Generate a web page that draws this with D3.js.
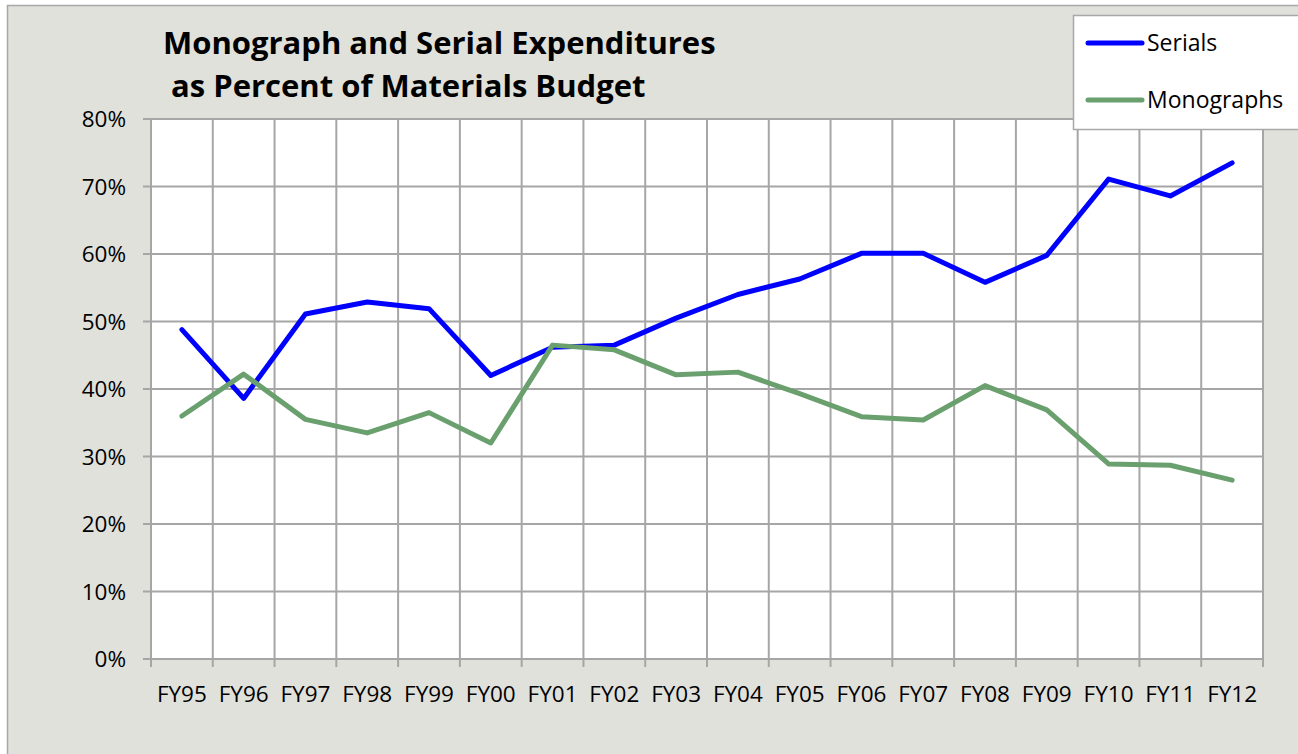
<!DOCTYPE html>
<html>
<head>
<meta charset="utf-8">
<script src="https://cdn.jsdelivr.net/npm/d3@7"></script>
<style>
  html, body { margin: 0; padding: 0; background: #fff; }
  svg { display: block; }
  text { font-family: "Open Sans", Lato, sans-serif; fill: #000; }
</style>
</head>
<body>
<svg id="chart" width="1298" height="754"></svg>
<script>
// fiscal years on the x axis
const years = ["FY95","FY96","FY97","FY98","FY99","FY00","FY01","FY02","FY03",
               "FY04","FY05","FY06","FY07","FY08","FY09","FY10","FY11","FY12"];

// share of materials budget, percent
const serials    = [48.8, 38.6, 51.1, 52.9, 51.9, 42.0, 46.2, 46.5, 50.5,
                    54.0, 56.3, 60.1, 60.1, 55.8, 59.8, 71.1, 68.6, 73.5];
const monographs = [36.0, 42.2, 35.5, 33.5, 36.5, 32.0, 46.5, 45.8, 42.1,
                    42.5, 39.3, 35.9, 35.4, 40.5, 36.9, 28.9, 28.7, 26.5];

const yTicks = [0, 10, 20, 30, 40, 50, 60, 70, 80];

const series = [
    {name: "Serials",    values: serials,    color: "#0000ff"},
    {name: "Monographs", values: monographs, color: "#6a9f6e"}
];

const svg = d3.select("#chart");
const W = 1298, H = 754;
const plot = {left: 151, top: 119, right: 1263, bottom: 659};

// chart background + frame
svg.append("rect").attr("width", W).attr("height", H).attr("fill", "#fff");
svg.append("rect")
    .attr("x", 7.5).attr("y", 5.5).attr("width", W).attr("height", H)
    .attr("fill", "#e1e1dc").attr("stroke", "#a8a8a8").attr("stroke-width", 1.5);

const x = d3.scaleBand().domain(years).range([plot.left, plot.right]).paddingInner(0).paddingOuter(0);
const y = d3.scaleLinear().domain([0, 80]).range([plot.bottom, plot.top]);

svg.append("rect")
    .attr("x", plot.left).attr("y", plot.top)
    .attr("width", plot.right - plot.left).attr("height", plot.bottom - plot.top)
    .attr("fill", "#fff");

const grid = svg.append("g").attr("stroke", "#a6a6a6").attr("stroke-width", 2);

// horizontal gridlines
grid.selectAll("line.h").data(yTicks).join("line")
    .attr("class", "h")
    .attr("x1", plot.left - 8).attr("x2", plot.right)
    .attr("y1", d => y(d)).attr("y2", d => y(d));

// vertical gridlines at category boundaries (+ last edge)
const edges = years.map(d => x(d)).concat([plot.right]);
grid.selectAll("line.v").data(edges).join("line")
    .attr("class", "v")
    .attr("x1", d => d).attr("x2", d => d)
    .attr("y1", plot.top).attr("y2", plot.bottom + 8);

// y labels
svg.append("g").selectAll("text").data(yTicks).join("text")
    .attr("x", 126).attr("y", d => y(d))
    .attr("dy", "0.36em")
    .attr("text-anchor", "end")
    .attr("font-size", 22.5)
    .text(d => d + "%");

// x labels
svg.append("g").selectAll("text").data(years).join("text")
    .attr("x", d => x(d) + x.bandwidth() / 2)
    .attr("y", 702)
    .attr("text-anchor", "middle")
    .attr("font-size", 22.5)
    .text(d => d);

// series lines
const line = d3.line()
    .x((d, i) => x(years[i]) + x.bandwidth() / 2)
    .y(d => y(d));

svg.append("g").selectAll("path").data(series).join("path")
    .attr("d", d => line(d.values))
    .attr("fill", "none")
    .attr("stroke", d => d.color)
    .attr("stroke-width", 5)
    .attr("stroke-linejoin", "round")
    .attr("stroke-linecap", "round");

// title
const title = svg.append("text")
    .attr("font-size", 31).attr("font-weight", "bold");
title.append("tspan").attr("x", 163).attr("y", 54).text("Monograph and Serial Expenditures");
title.append("tspan").attr("x", 171).attr("y", 97).text("as Percent of Materials Budget");

// legend
const legend = svg.append("g");
legend.append("rect")
    .attr("x", 1073.5).attr("y", 15.5).attr("width", 240).attr("height", 114)
    .attr("fill", "#fff").attr("stroke", "#a8a8a8").attr("stroke-width", 1.5);
const item = legend.selectAll("g").data(series).join("g")
    .attr("transform", (d, i) => `translate(1088, ${43 + i * 57})`);
item.append("line")
    .attr("x1", 0).attr("x2", 54)
    .attr("stroke", d => d.color).attr("stroke-width", 5).attr("stroke-linecap", "round");
item.append("text")
    .attr("x", 59).attr("dy", "0.36em")
    .attr("font-size", 23)
    .text(d => d.name);
</script>
</body>
</html>
